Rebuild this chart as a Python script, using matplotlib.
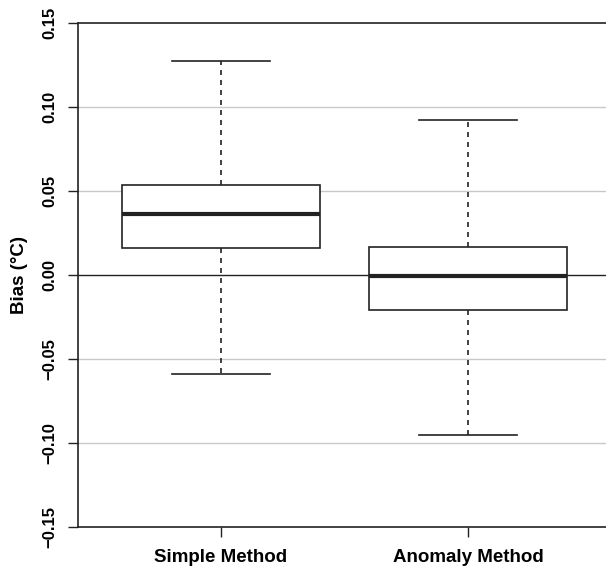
import matplotlib
matplotlib.use("Agg")
import matplotlib.pyplot as plt

categories = ["Simple Method", "Anomaly Method"]
whislo = [-0.0589, -0.0952]
q1 = [0.0161, -0.0208]
med = [0.0363, -0.0006]
q3 = [0.0536, 0.0167]
whishi = [0.1274, 0.0923]
yticks = [-0.15, -0.10, -0.05, 0.00, 0.05, 0.10, 0.15]
ytick_labels = ["\u22120.15", "\u22120.10", "\u22120.05", "0.00", "0.05", "0.10", "0.15"]
grid_vals = [-0.10, -0.05, 0.05, 0.10]

plt.rcParams['font.family'] = ['Liberation Sans', 'DejaVu Sans']
fig = plt.figure(figsize=(6.06, 5.68), dpi=100)
ax = fig.add_axes([78/606, 41/568, 1 - 78/606, 504/568])

for g in grid_vals:
    ax.axhline(g, color='#c8c8c8', lw=1.0, zorder=0)
ax.axhline(0, color='#222222', lw=1.0, zorder=1)

stats = []
for i, c in enumerate(categories):
    stats.append(dict(label=c, whislo=whislo[i], q1=q1[i], med=med[i],
                      q3=q3[i], whishi=whishi[i], fliers=[]))

lc = '#222222'
ax.bxp(stats, positions=[1, 2], widths=0.8, capwidths=0.4, showfliers=False,
       patch_artist=True,
       boxprops=dict(facecolor='white', edgecolor=lc, linewidth=1.2),
       whiskerprops=dict(color=lc, linestyle=(0, (3, 3)), linewidth=1.2),
       capprops=dict(color=lc, linewidth=1.2),
       medianprops=dict(color=lc, linewidth=3.0, solid_capstyle='butt'),
       zorder=2)

ax.set_xlim(0.421, 2.559)
ax.set_ylim(-0.15, 0.15)
ax.set_yticks(yticks)
ax.set_yticklabels(ytick_labels, rotation=90, va='center', fontsize=12, fontweight='bold')
ax.set_xticks([1, 2])
ax.set_xticklabels(categories, fontsize=13.5, fontweight='bold')
ax.tick_params(axis='both', length=7.2, width=1.0, color=lc)
ax.tick_params(axis='y', pad=8)
ax.tick_params(axis='x', pad=9)
ax.set_ylabel("Bias (\u00b0C)", fontsize=13.5, fontweight='bold', labelpad=10)

for s in ['left', 'bottom', 'top']:
    ax.spines[s].set_color(lc)
    ax.spines[s].set_linewidth(1.2)
ax.spines['right'].set_visible(False)

fig.savefig("out.png", dpi=100)
